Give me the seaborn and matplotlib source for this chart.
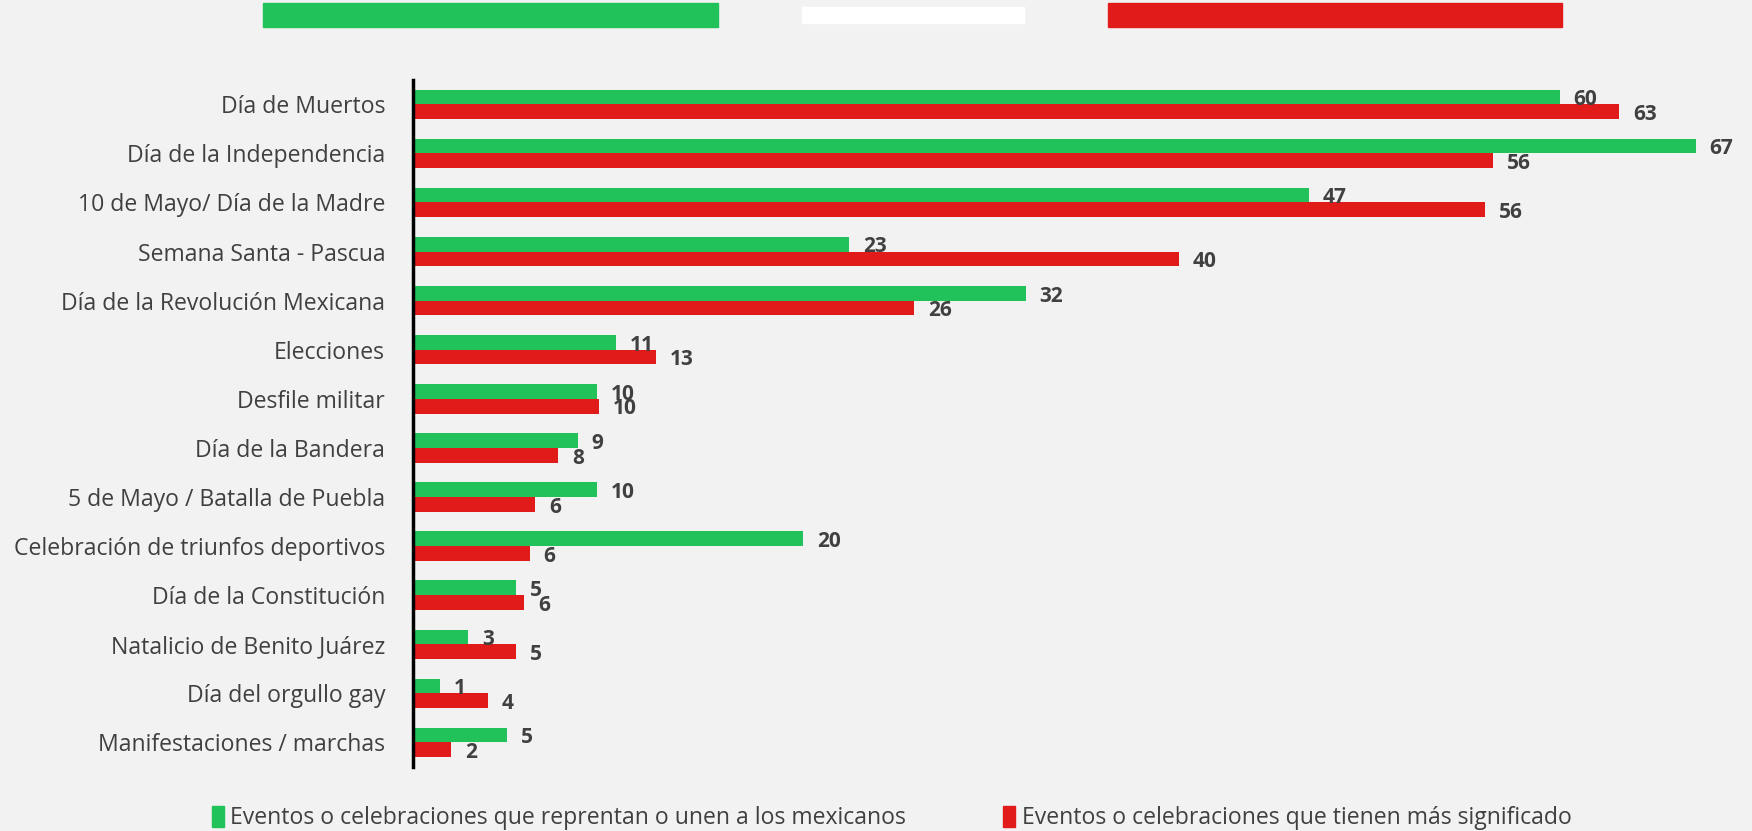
import pandas as pd
import matplotlib.pyplot as plt
import seaborn as sns
from matplotlib.patches import Rectangle

# --- DATOS ---
categorias = ["Día de Muertos", "Día de la Independencia", "10 de Mayo/ Día de la Madre",
              "Semana Santa - Pascua", "Día de la Revolución Mexicana", "Elecciones",
              "Desfile militar", "Día de la Bandera", "5 de Mayo / Batalla de Puebla",
              "Celebración de triunfos deportivos", "Día de la Constitución",
              "Natalicio de Benito Juárez", "Día del orgullo gay", "Manifestaciones / marchas"]
unen = [59.9, 67.0, 46.8, 22.8, 32.0, 10.6, 9.6, 8.6, 9.6, 20.4, 5.4, 2.9, 1.4, 4.9]
significado = [63.0, 56.4, 56.0, 40.0, 26.2, 12.7, 9.7, 7.6, 6.4, 6.1, 5.8, 5.4, 3.9, 2.0]
serie_unen = "Eventos o celebraciones que reprentan o unen a los mexicanos"
serie_signif = "Eventos o celebraciones que tienen más significado"

df = pd.DataFrame({
    "Evento": categorias * 2,
    "Valor": unen + significado,
    "Serie": [serie_unen] * len(categorias) + [serie_signif] * len(categorias),
})

verde = "#21C25A"
rojo = "#E01B1A"
fondo = "#F2F2F2"
gris = "#404040"

# --- CONFIGURACIÓN ---
sns.set_style("white")
plt.rcParams['font.family'] = ['Open Sans', 'DejaVu Sans']

fig = plt.figure(figsize=(17.52, 8.31), dpi=100, facecolor=fondo)
ax = fig.add_axes([0.2357, 0.077, 0.7643, 0.827])
ax.set_facecolor(fondo)

sns.barplot(data=df, x="Valor", y="Evento", hue="Serie", orient="h",
            palette=[verde, rojo], width=0.6, ax=ax, legend=False,
            edgecolor="none", saturation=1)

for cont in ax.containers:
    for barra in cont:
        w = barra.get_width()
        yc = barra.get_y() + barra.get_height() / 2
        ax.annotate(f"{round(w):d}", (w, yc), xytext=(10, -2), textcoords="offset points",
                    va="center", ha="left", fontsize=15, fontweight="bold", color=gris,
                    annotation_clip=False)

ax.set_xlim(0, 69.95)
ax.set_ylim(13.5, -0.5)
ax.set_xlabel("")
ax.set_ylabel("")
ax.set_xticks([])
ax.tick_params(axis="y", length=0, pad=20, labelsize=16.6, labelcolor=gris)
for s in ["top", "right", "bottom"]:
    ax.spines[s].set_visible(False)
ax.spines["left"].set_color("black")
ax.spines["left"].set_linewidth(2.5)

# --- FRANJAS DE LA BANDERA ---
H = 831.0
W = 1752.0
fig.add_artist(Rectangle((263 / W, 1 - 27 / H), 455 / W, 24 / H, transform=fig.transFigure, color=verde))
fig.add_artist(Rectangle((802 / W, 1 - 23 / H), 222 / W, 16 / H, transform=fig.transFigure, color="white"))
fig.add_artist(Rectangle((1108 / W, 1 - 27 / H), 454 / W, 24 / H, transform=fig.transFigure, color=rojo))

# --- LEYENDA ---
handles = [Rectangle((0, 0), 1, 1, color=verde), Rectangle((0, 0), 1, 1, color=rojo)]
fig.legend(handles, [serie_unen, serie_signif], loc="center", bbox_to_anchor=(0.509, 0.0155),
           ncol=2, frameon=False, fontsize=16.6, labelcolor=gris, handlelength=0.5, handleheight=1.0,
           handletextpad=0.3, columnspacing=4.2, borderpad=0.1)

plt.savefig("out.png", dpi=100, facecolor=fondo)
plt.close()
